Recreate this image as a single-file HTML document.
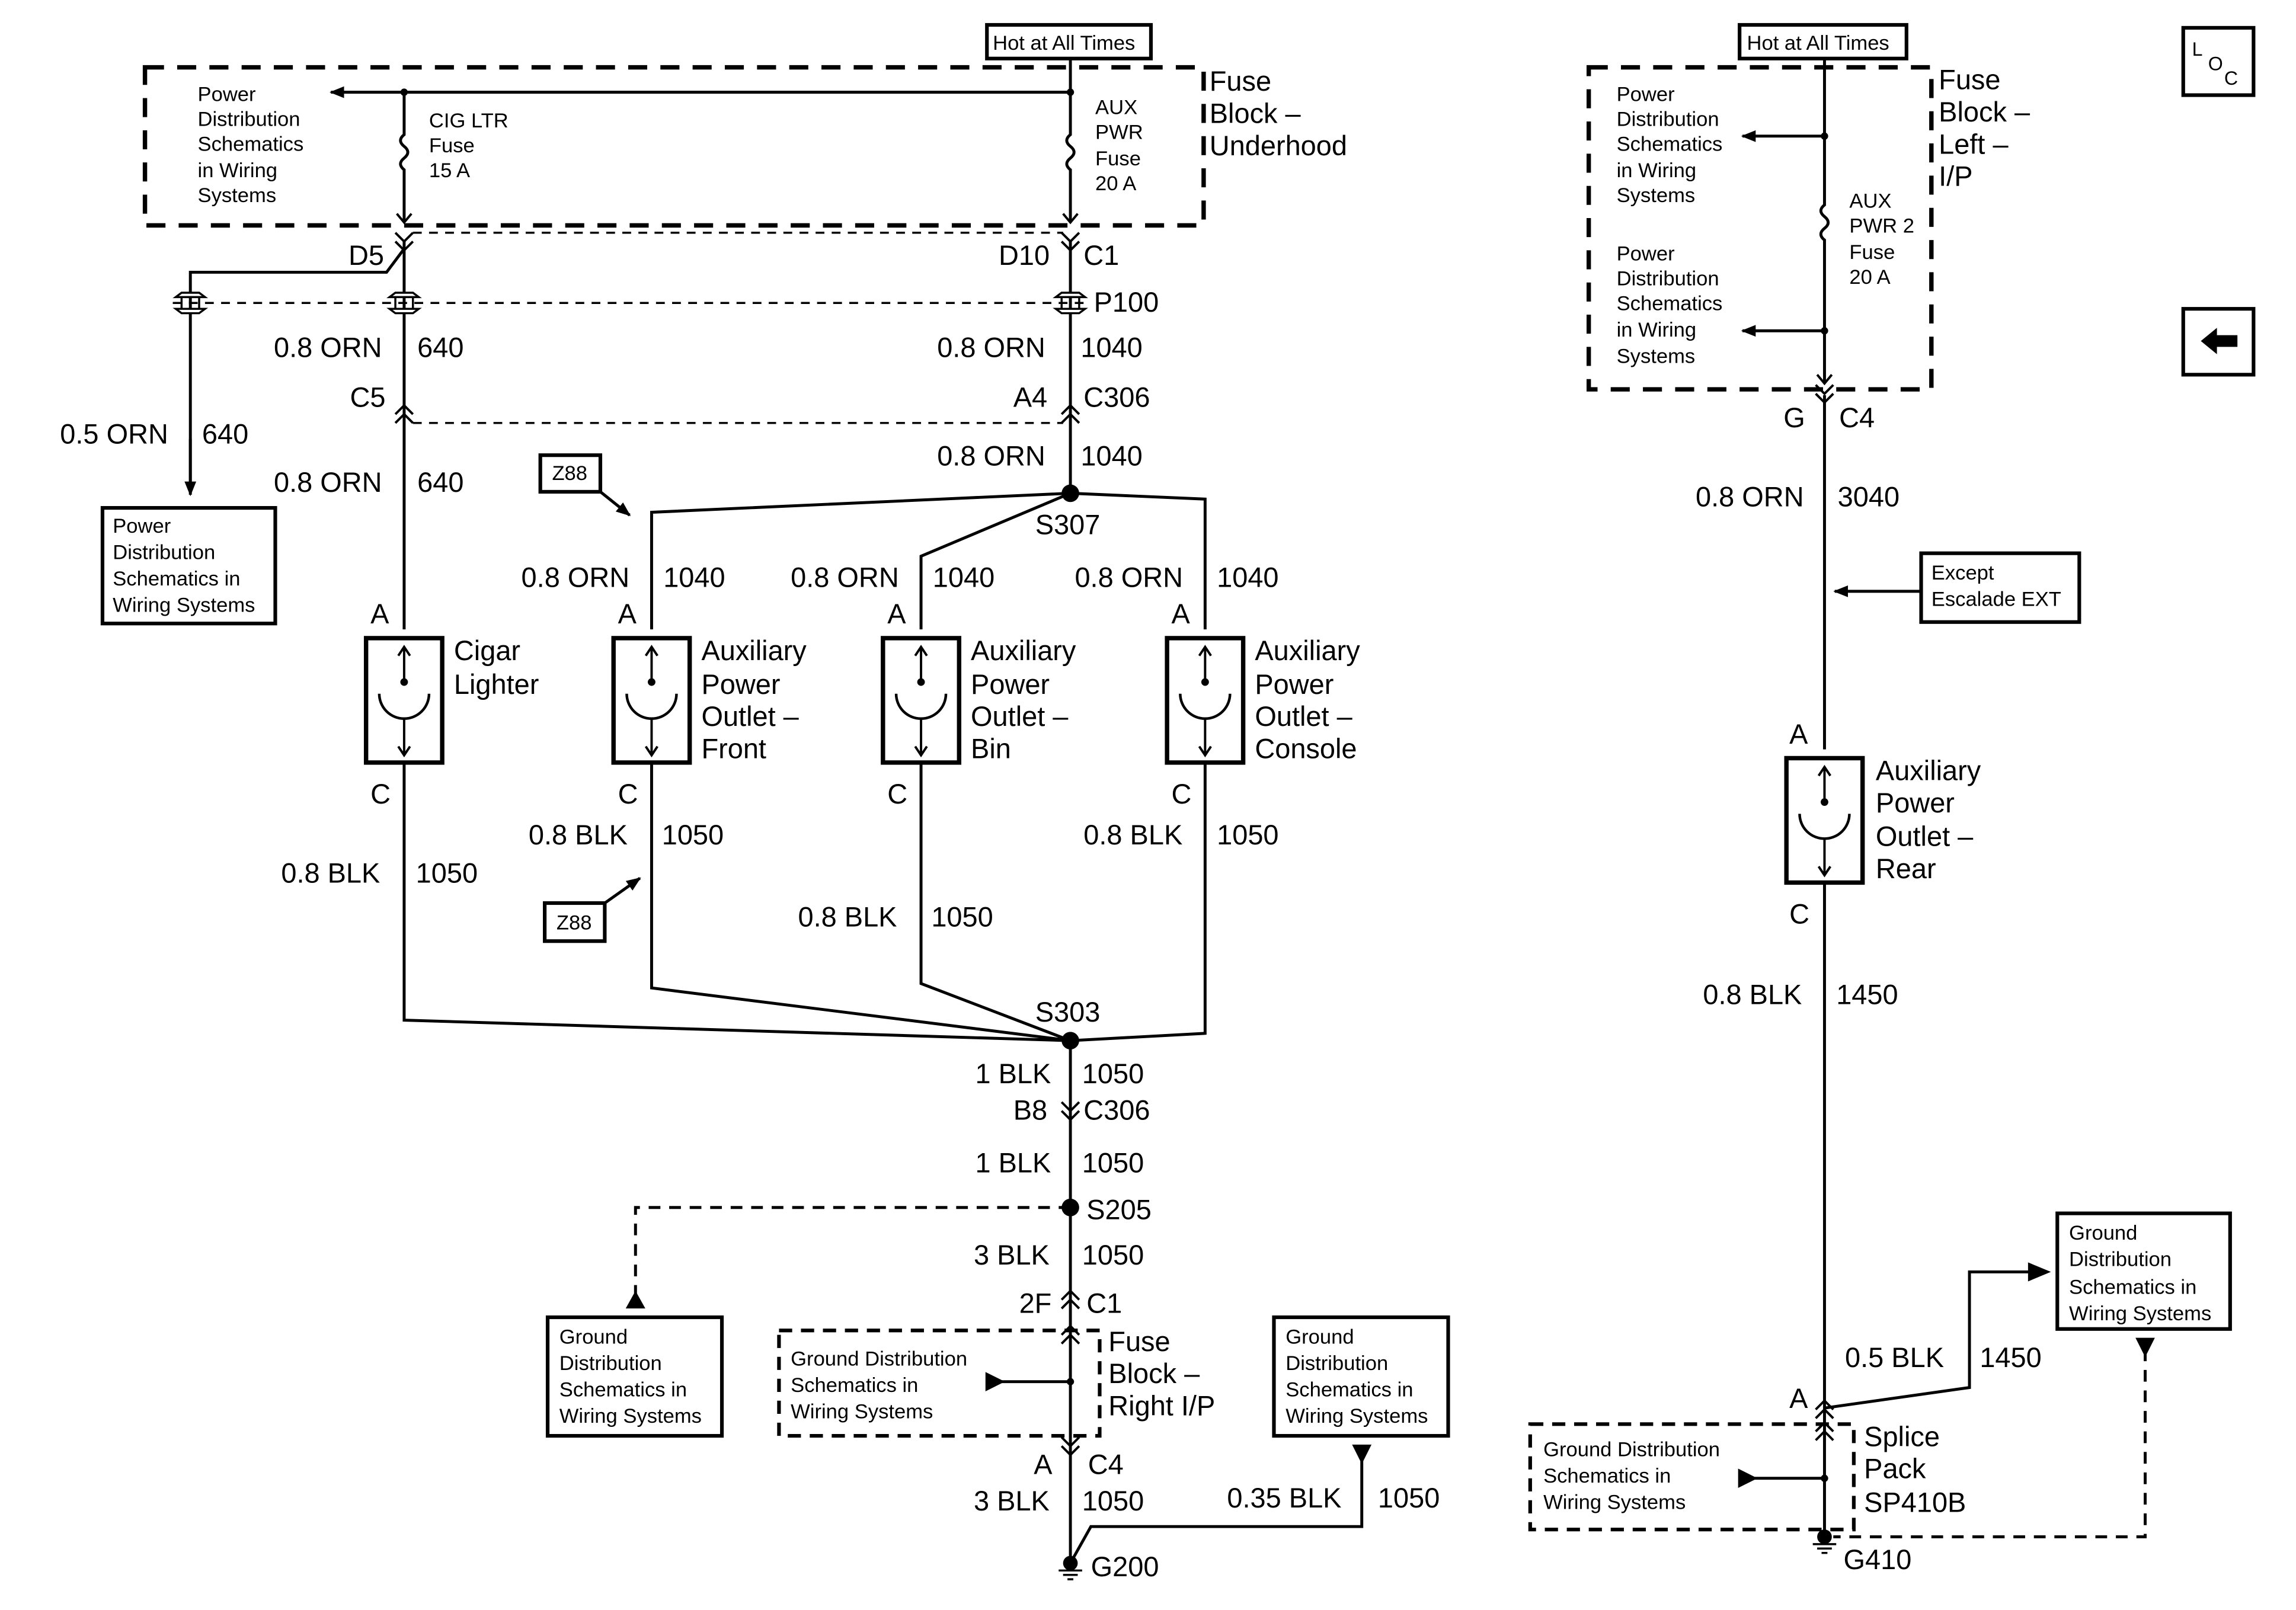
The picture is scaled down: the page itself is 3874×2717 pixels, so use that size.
<!DOCTYPE html>
<html><head><meta charset="utf-8"><style>
html,body{margin:0;padding:0;background:#fff;}
svg{display:block;}
text{font-family:"Liberation Sans",Arial,sans-serif;fill:#000;}
.b{font-size:19px;}
.s{font-size:14px;}
</style></head><body>
<svg width="3874" height="2717" viewBox="0 0 1568 1100" preserveAspectRatio="none" xmlns="http://www.w3.org/2000/svg">
<defs>
<marker id="ar" markerWidth="10" markerHeight="10" refX="9" refY="5" orient="auto" markerUnits="userSpaceOnUse"><path d="M0,1 L10,5 L0,9 z" fill="#000"/></marker>
<g id="comp">
<rect x="-26" y="0" width="52" height="85" fill="#fff" stroke="#000" stroke-width="3"/>
<path d="M0,6 V30 M0,55 V80 M-4,12 L0,6 L4,12 M-4,74 L0,80 L4,74" stroke="#000" stroke-width="1.6" fill="none"/>
<circle cx="0" cy="30" r="2.6" fill="#000"/>
<path d="M-17,38 A17,17 0 0 0 17,38" stroke="#000" stroke-width="1.8" fill="none"/>
</g>
<g id="cf"><path d="M-6,-3 L0,3 L6,-3 M-6,3 L0,9 L6,3" stroke="#000" stroke-width="1.6" fill="none"/></g>
<g id="cm"><path d="M-6,3 L0,-3 L6,3 M-6,9 L0,3 L6,9" stroke="#000" stroke-width="1.6" fill="none"/></g>
<g id="p1"><path d="M-10,-4 L-6,-7 H6 L10,-4 Z M-10,4 L-6,7 H6 L10,4 Z M-6,-4 V4 M6,-4 V4" stroke="#000" stroke-width="1.4" fill="#fff"/></g>
<g id="gnd"><circle cx="0" cy="0" r="5" fill="#000"/><path d="M-8,5 H8 M-5,8 H5 M-2,11 H2" stroke="#000" stroke-width="1.4"/></g>
</defs>
<g stroke="#000" fill="none" stroke-width="2">
<rect x="674" y="17" width="112" height="23" stroke-width="2.5"/>
<rect x="99" y="46" width="723" height="108" stroke-width="3" stroke-dasharray="13,9"/>
<line x1="731" y1="40" x2="731" y2="63"/>
<line x1="731" y1="63" x2="226" y2="63" marker-end="url(#ar)"/>
<path d="M276,63 V92 q-5,4 0,8 q5,4 0,8 q-5,4 0,8 V152 M731,63 V92 q-5,4 0,8 q5,4 0,8 q-5,4 0,8 V152"/>
<path d="M271,146 L276,152 L281,146 M726,146 L731,152 L736,146" stroke-width="1.6"/>
<line x1="282" y1="159" x2="726" y2="159" stroke-width="1.4" stroke-dasharray="6,5"/>
<line x1="118" y1="207" x2="745" y2="207" stroke-width="1.4" stroke-dasharray="6,5"/>
<line x1="282" y1="289" x2="726" y2="289" stroke-width="1.4" stroke-dasharray="6,5"/>
<path d="M276,165 V430 M276,170 L264,186 H130 V335"/>
<line x1="130" y1="300" x2="130" y2="338" marker-end="url(#ar)"/>
<path d="M731,165 V337"/>
<rect x="70" y="347" width="118" height="79" stroke-width="2.5"/>
<path d="M731,337 L445,350 V430 M731,337 L629,380 V430 M731,337 L823,341 V430"/>
<rect x="369" y="311" width="41" height="25" stroke-width="2.5"/>
<line x1="410" y1="336" x2="430" y2="352" marker-end="url(#ar)"/>
<path d="M276,521 V697 L731,711 M445,521 V675 L731,711 M629,521 V672 L731,711 M823,521 V706 L731,711 M731,711 V1068"/>
<rect x="372" y="617" width="41" height="26" stroke-width="2.5"/>
<line x1="413" y1="617" x2="437" y2="600" marker-end="url(#ar)"/>
<path d="M731,825 H434 V884" stroke-dasharray="8,6"/>
<path d="M429,893 L434,884 L439,893 Z" fill="#000"/>
<rect x="374" y="900" width="119" height="81" stroke-width="2.5"/>
<rect x="532" y="909" width="219" height="72" stroke-width="2.5" stroke-dasharray="9,6"/>
<line x1="676" y1="944" x2="731" y2="944"/>
<path d="M674,939 L684,944 L674,949 Z" fill="#000"/>
<rect x="870" y="900" width="119" height="81" stroke-width="2.5"/>
<path d="M731,1068 L745,1043 H930 V990"/>
<path d="M925,988 L930,998 L935,988 Z" fill="#000"/>
<rect x="1188" y="17" width="114" height="23" stroke-width="2.5"/>
<rect x="1085" y="46" width="234" height="220" stroke-width="3" stroke-dasharray="13,9"/>
<path d="M1246,40 V140 q-5,4 0,8 q5,4 0,8 q-5,4 0,8 V262 M1246,270 V512 M1246,603 V1048"/>
<path d="M1241,256 L1246,262 L1251,256" stroke-width="1.6"/>
<line x1="1246" y1="93" x2="1190" y2="93" marker-end="url(#ar)"/>
<line x1="1246" y1="226" x2="1190" y2="226" marker-end="url(#ar)"/>
<rect x="1312" y="378" width="108" height="47" stroke-width="2.5"/>
<line x1="1312" y1="404" x2="1253" y2="404" marker-end="url(#ar)"/>
<path d="M1246,962 L1345,948 V869 H1388"/>
<path d="M1386,864 L1398,869 L1386,874 Z" fill="#000"/>
<rect x="1405" y="829" width="118" height="79" stroke-width="2.5"/>
<path d="M1465,922 V1050 H1252" stroke-dasharray="8,6"/>
<path d="M1460,915 L1465,925 L1470,915 Z" fill="#000"/>
<rect x="1045" y="973" width="221" height="72" stroke-width="2.5" stroke-dasharray="9,6"/>
<line x1="1190" y1="1010" x2="1246" y2="1010"/>
<path d="M1188,1005 L1198,1010 L1188,1015 Z" fill="#000"/>
<rect x="1491" y="19" width="48" height="46" stroke-width="2.5"/>
<rect x="1491" y="211" width="48" height="45" stroke-width="2.5"/>
</g>
<path d="M1503,233 L1514,224 V229 H1528 V237 H1514 V242 Z" fill="#000"/>
<g fill="#000"><circle cx="276" cy="63" r="2.5"/><circle cx="731" cy="63" r="2.5"/><circle cx="731" cy="337" r="6"/><circle cx="731" cy="711" r="6"/><circle cx="731" cy="825" r="6"/><circle cx="731" cy="944" r="2.5"/><circle cx="1246" cy="93" r="2.5"/><circle cx="1246" cy="226" r="2.5"/><circle cx="1246" cy="1010" r="2.5"/></g>
<use href="#cf" x="276" y="162"/><use href="#cf" x="731" y="162"/>
<use href="#cm" x="276" y="280"/><use href="#cm" x="731" y="280"/>
<use href="#p1" x="130" y="207"/><use href="#p1" x="276" y="207"/><use href="#p1" x="731" y="207"/>
<use href="#cf" x="731" y="756"/><use href="#cm" x="731" y="885"/><use href="#cm" x="731" y="909"/>
<use href="#cf" x="731" y="985"/><use href="#cf" x="1246" y="266"/><use href="#cm" x="1246" y="960"/><use href="#cm" x="1246" y="975"/>
<use href="#comp" x="276" y="436"/><use href="#comp" x="445" y="436"/><use href="#comp" x="629" y="436"/><use href="#comp" x="823" y="436"/><use href="#comp" x="1246" y="518"/>
<use href="#gnd" x="731" y="1068"/><use href="#gnd" x="1246" y="1050"/>
<text class="s" x="678" y="34">Hot at All Times</text>
<text class="s" x="1193" y="34">Hot at All Times</text>
<g class="s"><text x="135" y="69">Power</text><text x="135" y="86">Distribution</text><text x="135" y="103">Schematics</text><text x="135" y="121">in Wiring</text><text x="135" y="138">Systems</text>
<text x="293" y="87">CIG LTR</text><text x="293" y="104">Fuse</text><text x="293" y="121">15 A</text>
<text x="748" y="78">AUX</text><text x="748" y="95">PWR</text><text x="748" y="113">Fuse</text><text x="748" y="130">20 A</text>
<text x="77" y="364">Power</text><text x="77" y="382">Distribution</text><text x="77" y="400">Schematics in</text><text x="77" y="418">Wiring Systems</text>
<text x="377" y="328">Z88</text><text x="380" y="635">Z88</text>
<text x="382" y="918">Ground</text><text x="382" y="936">Distribution</text><text x="382" y="954">Schematics in</text><text x="382" y="972">Wiring Systems</text>
<text x="540" y="933">Ground Distribution</text><text x="540" y="951">Schematics in</text><text x="540" y="969">Wiring Systems</text>
<text x="878" y="918">Ground</text><text x="878" y="936">Distribution</text><text x="878" y="954">Schematics in</text><text x="878" y="972">Wiring Systems</text>
<text x="1104" y="69">Power</text><text x="1104" y="86">Distribution</text><text x="1104" y="103">Schematics</text><text x="1104" y="121">in Wiring</text><text x="1104" y="138">Systems</text>
<text x="1104" y="178">Power</text><text x="1104" y="195">Distribution</text><text x="1104" y="212">Schematics</text><text x="1104" y="230">in Wiring</text><text x="1104" y="248">Systems</text>
<text x="1263" y="142">AUX</text><text x="1263" y="159">PWR 2</text><text x="1263" y="177">Fuse</text><text x="1263" y="194">20 A</text>
<text x="1319" y="396">Except</text><text x="1319" y="414">Escalade EXT</text>
<text x="1413" y="847">Ground</text><text x="1413" y="865">Distribution</text><text x="1413" y="884">Schematics in</text><text x="1413" y="902">Wiring Systems</text>
<text x="1054" y="995">Ground Distribution</text><text x="1054" y="1013">Schematics in</text><text x="1054" y="1031">Wiring Systems</text>
</g>
<g class="b">
<text x="826" y="62">Fuse</text><text x="826" y="84">Block –</text><text x="826" y="106">Underhood</text>
<text x="1324" y="61">Fuse</text><text x="1324" y="83">Block –</text><text x="1324" y="105">Left –</text><text x="1324" y="127">I/P</text>
<text x="238" y="181">D5</text><text x="682" y="181">D10</text><text x="740" y="181">C1</text><text x="747" y="213">P100</text>
<text x="187" y="244">0.8 ORN</text><text x="285" y="244">640</text><text x="640" y="244">0.8 ORN</text><text x="738" y="244">1040</text>
<text x="239" y="278">C5</text><text x="692" y="278">A4</text><text x="740" y="278">C306</text>
<text x="41" y="303">0.5 ORN</text><text x="138" y="303">640</text>
<text x="187" y="336">0.8 ORN</text><text x="285" y="336">640</text><text x="640" y="318">0.8 ORN</text><text x="738" y="318">1040</text>
<text x="707" y="365">S307</text>
<text x="356" y="401">0.8 ORN</text><text x="453" y="401">1040</text><text x="540" y="401">0.8 ORN</text><text x="637" y="401">1040</text><text x="734" y="401">0.8 ORN</text><text x="831" y="401">1040</text>
<text x="253" y="426">A</text><text x="422" y="426">A</text><text x="606" y="426">A</text><text x="800" y="426">A</text>
<text x="310" y="451">Cigar</text><text x="310" y="474">Lighter</text>
<text x="479" y="451">Auxiliary</text><text x="479" y="474">Power</text><text x="479" y="496">Outlet –</text><text x="479" y="518">Front</text>
<text x="663" y="451">Auxiliary</text><text x="663" y="474">Power</text><text x="663" y="496">Outlet –</text><text x="663" y="518">Bin</text>
<text x="857" y="451">Auxiliary</text><text x="857" y="474">Power</text><text x="857" y="496">Outlet –</text><text x="857" y="518">Console</text>
<text x="253" y="549">C</text><text x="422" y="549">C</text><text x="606" y="549">C</text><text x="800" y="549">C</text>
<text x="361" y="577">0.8 BLK</text><text x="452" y="577">1050</text><text x="740" y="577">0.8 BLK</text><text x="831" y="577">1050</text>
<text x="192" y="603">0.8 BLK</text><text x="284" y="603">1050</text><text x="545" y="633">0.8 BLK</text><text x="636" y="633">1050</text>
<text x="707" y="698">S303</text>
<text x="666" y="740">1 BLK</text><text x="739" y="740">1050</text><text x="692" y="765">B8</text><text x="740" y="765">C306</text>
<text x="666" y="801">1 BLK</text><text x="739" y="801">1050</text><text x="742" y="833">S205</text>
<text x="665" y="864">3 BLK</text><text x="739" y="864">1050</text><text x="696" y="897">2F</text><text x="742" y="897">C1</text>
<text x="757" y="923">Fuse</text><text x="757" y="945">Block –</text><text x="757" y="967">Right I/P</text>
<text x="706" y="1007">A</text><text x="743" y="1007">C4</text>
<text x="665" y="1032">3 BLK</text><text x="739" y="1032">1050</text><text x="838" y="1030">0.35 BLK</text><text x="941" y="1030">1050</text>
<text x="745" y="1077">G200</text>
<text x="1218" y="292">G</text><text x="1256" y="292">C4</text>
<text x="1158" y="346">0.8 ORN</text><text x="1255" y="346">3040</text>
<text x="1222" y="508">A</text><text x="1222" y="631">C</text>
<text x="1281" y="533">Auxiliary</text><text x="1281" y="555">Power</text><text x="1281" y="578">Outlet –</text><text x="1281" y="600">Rear</text>
<text x="1163" y="686">0.8 BLK</text><text x="1254" y="686">1450</text>
<text x="1260" y="934">0.5 BLK</text><text x="1352" y="934">1450</text>
<text x="1222" y="962">A</text>
<text x="1273" y="988">Splice</text><text x="1273" y="1010">Pack</text><text x="1273" y="1033">SP410B</text>
<text x="1259" y="1072">G410</text>
</g>
<text x="1497" y="38" style="font-size:13px">L</text><text x="1508" y="48" style="font-size:13px">O</text><text x="1519" y="58" style="font-size:13px">C</text>
</svg>
</body></html>
